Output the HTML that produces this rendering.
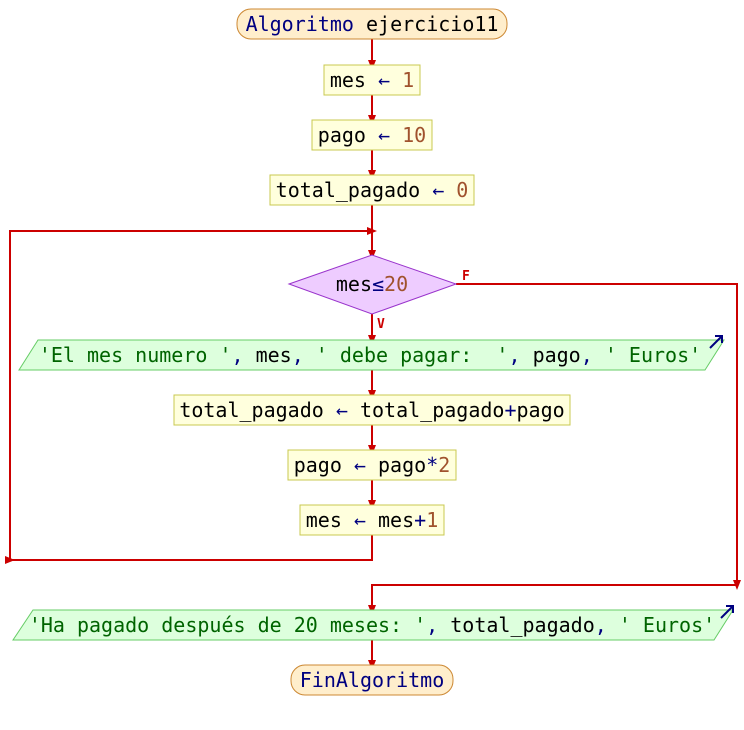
<!DOCTYPE html>
<html><head><meta charset="utf-8"><style>
html,body{margin:0;padding:0;background:#fff;}
svg{display:block}
text{font-family:"DejaVu Sans Mono","Liberation Mono",monospace;font-size:20px;white-space:pre;}
.k{fill:#000080}.n{fill:#a0522d}.s{fill:#006400}.i{fill:#000}
</style></head><body>
<svg width="744" height="730" viewBox="0 0 744 730" xmlns="http://www.w3.org/2000/svg">
<defs><marker id="a" markerWidth="10" markerHeight="10" refX="5" refY="5" orient="auto" markerUnits="userSpaceOnUse"><path d="M0,1 L10,5 L0,9 z" fill="#cc0000"/></marker></defs>
<g stroke="#cc0000" stroke-width="2" fill="none">
<line x1="372" y1="39" x2="372" y2="65" marker-end="url(#a)"/>
<line x1="372" y1="95" x2="372" y2="120" marker-end="url(#a)"/>
<line x1="372" y1="150" x2="372" y2="175" marker-end="url(#a)"/>
<line x1="372" y1="205" x2="372" y2="255" marker-end="url(#a)"/>
<polyline points="372,535 372,560 10,560 10,231 372,231" marker-end="url(#a)"/>
<line x1="10" y1="560" x2="10" y2="560" marker-end="url(#a)"/>
<line x1="372" y1="314" x2="372" y2="340" marker-end="url(#a)"/>
<line x1="372" y1="370" x2="372" y2="395" marker-end="url(#a)"/>
<line x1="372" y1="425" x2="372" y2="450" marker-end="url(#a)"/>
<line x1="372" y1="480" x2="372" y2="505" marker-end="url(#a)"/>
<polyline points="456,284 737,284 737,585" marker-end="url(#a)"/>
<polyline points="737,585 372,585 372,610" marker-end="url(#a)"/>
<line x1="372" y1="640" x2="372" y2="665" marker-end="url(#a)"/>
</g>
<rect x="237" y="9" width="270" height="30" rx="14" fill="#ffeecc" stroke="#cc8833"/>
<text x="372" y="31" text-anchor="middle" class="k">Algoritmo <tspan class="i">ejercicio11</tspan></text>
<rect x="324" y="65" width="96" height="30" fill="#ffffdd" stroke="#c8c850"/>
<text x="372" y="87" text-anchor="middle" class="i">mes <tspan class="k">←</tspan> <tspan class="n">1</tspan></text>
<rect x="312" y="120" width="120" height="30" fill="#ffffdd" stroke="#c8c850"/>
<text x="372" y="142" text-anchor="middle" class="i">pago <tspan class="k">←</tspan> <tspan class="n">10</tspan></text>
<rect x="270" y="175" width="204" height="30" fill="#ffffdd" stroke="#c8c850"/>
<text x="372" y="197" text-anchor="middle" class="i">total_pagado <tspan class="k">←</tspan> <tspan class="n">0</tspan></text>
<polygon points="289,284 372,255 456,284 372,314" fill="#eeccff" stroke="#9933cc"/>
<text x="372" y="291" text-anchor="middle" class="i">mes<tspan class="k">≤</tspan><tspan class="n">20</tspan></text>
<text x="462" y="280" style="font-size:13px;font-weight:bold" fill="#cc0000">F</text>
<text x="377" y="328" style="font-size:13px;font-weight:bold" fill="#cc0000">V</text>
<polygon points="38,340 724,340 705,370 19,370" fill="#ddffdd" stroke="#66cc66"/>
<text x="370" y="362" text-anchor="middle" class="s">'El mes numero '<tspan class="k">,</tspan> <tspan class="i">mes</tspan><tspan class="k">,</tspan> ' debe pagar:  '<tspan class="k">,</tspan> <tspan class="i">pago</tspan><tspan class="k">,</tspan> ' Euros'</text>
<path d="M710,348 L722,336 M715,336 L722,336 L722,343" stroke="#000080" stroke-width="2" fill="none"/>
<rect x="174" y="395" width="396" height="30" fill="#ffffdd" stroke="#c8c850"/>
<text x="372" y="417" text-anchor="middle" class="i">total_pagado <tspan class="k">←</tspan> total_pagado<tspan class="k">+</tspan>pago</text>
<rect x="288" y="450" width="168" height="30" fill="#ffffdd" stroke="#c8c850"/>
<text x="372" y="472" text-anchor="middle" class="i">pago <tspan class="k">←</tspan> pago<tspan class="k">*</tspan><tspan class="n">2</tspan></text>
<rect x="300" y="505" width="144" height="30" fill="#ffffdd" stroke="#c8c850"/>
<text x="372" y="527" text-anchor="middle" class="i">mes <tspan class="k">←</tspan> mes<tspan class="k">+</tspan><tspan class="n">1</tspan></text>
<polygon points="33,610 733,610 714,640 13,640" fill="#ddffdd" stroke="#66cc66"/>
<text x="372" y="632" text-anchor="middle" class="s">'Ha pagado después de 20 meses: '<tspan class="k">,</tspan> <tspan class="i">total_pagado</tspan><tspan class="k">,</tspan> ' Euros'</text>
<path d="M721,618 L733,606 M726,606 L733,606 L733,613" stroke="#000080" stroke-width="2" fill="none"/>
<rect x="291" y="665" width="162" height="30" rx="14" fill="#ffeecc" stroke="#cc8833"/>
<text x="372" y="687" text-anchor="middle" class="k">FinAlgoritmo</text>
</svg>
</body></html>
